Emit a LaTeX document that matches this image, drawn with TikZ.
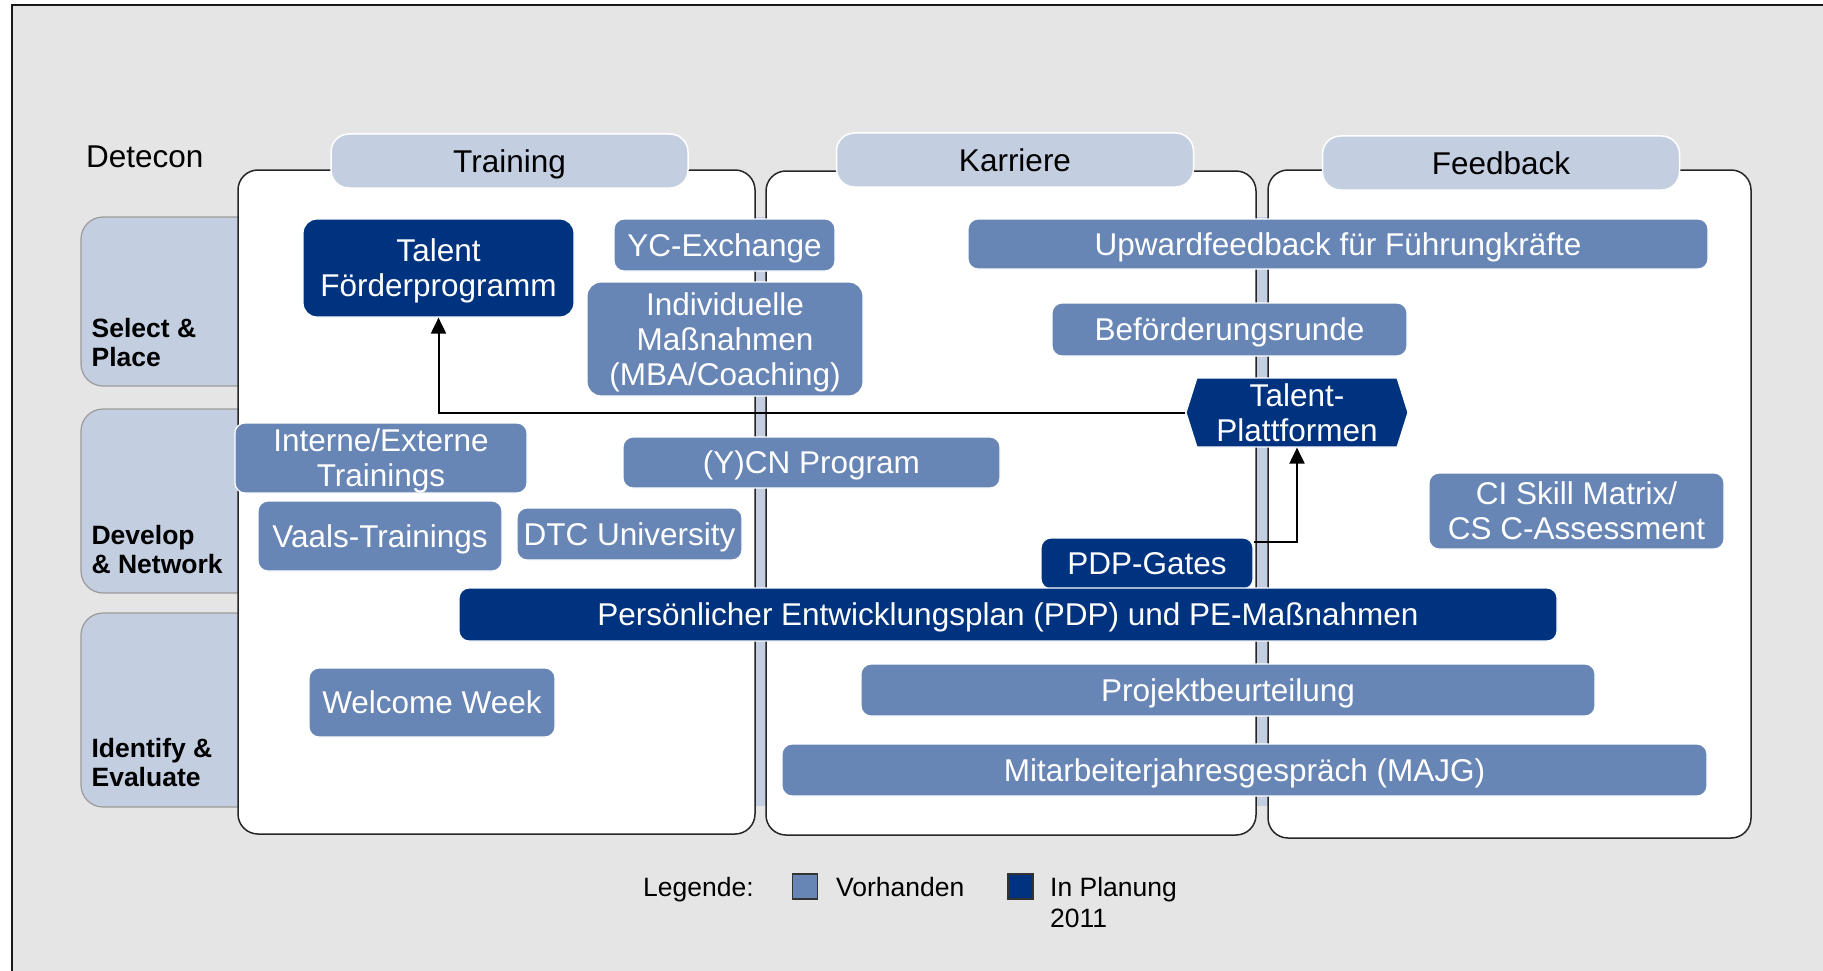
\documentclass[tikz,border=0pt]{standalone}
\usepackage{fontspec}
\setmainfont{Liberation Sans}
\usetikzlibrary{arrows.meta,shapes.symbols,calc}
\definecolor{bggray}{HTML}{E5E5E5}
\definecolor{lightblue}{HTML}{C3CEE0}
\definecolor{midblue}{HTML}{6785B5}
\definecolor{navy}{HTML}{00337F}
\definecolor{rowborder}{HTML}{9A9A9A}

\begin{document}
\begin{tikzpicture}[x=1pt,y=-1pt,
  itemfont/.style={font=\fontsize{31.5}{35}\selectfont},
  item/.style={itemfont, rounded corners=10pt, fill=midblue, draw=white, line width=1.2pt,
    text=white, align=center, inner sep=0pt, text depth=0pt},
  plan/.style={item, fill=navy},
  header/.style={itemfont, rounded corners=18pt, fill=lightblue, draw=white, line width=1.5pt,
    minimum width=357pt, minimum height=54pt, inner sep=0pt, text depth=0pt},
  panel/.style={rounded corners=20pt, fill=white, draw=black!85, line width=1.5pt, inner sep=0pt},
  rowbox/.style={rounded corners=22pt, fill=lightblue, draw=rowborder, line width=1.2pt, inner sep=0pt},
  rowlabel/.style={anchor=south west, inner sep=0pt, align=left,
    font=\bfseries\fontsize{26.5}{28.5}\selectfont},
  arr/.style={line width=2pt, -{Triangle[length=16pt,width=15pt]}},
  legtext/.style={inner sep=0pt, text depth=0pt, font=\fontsize{26.5}{31}\selectfont},
  legbox/.style={draw=black!80, line width=1.5pt, minimum size=25pt, inner sep=0pt},
]
\useasboundingbox (0,0) rectangle (1823,971);
\fill[white] (0,0) rectangle (1823,971);
\fill[bggray] (12,5) rectangle (1823,971);
\draw[line width=2pt, black!90] (12,971) -- (12,5) -- (1823,5);

% row bands on the left
\node[rowbox, minimum width=219pt, minimum height=169pt] (rowsel) at (190.5,301.5) {};
\node[rowbox, minimum width=219pt, minimum height=184pt] (rowdev) at (190.5,501) {};
\node[rowbox, minimum width=219pt, minimum height=194pt] (rowid)  at (190.5,710) {};
\node[rowlabel] (lsel) at ([shift={(11,-20)}]rowsel.south west) {Select \&\\Place};
\node[rowlabel] (ldev) at ([shift={(11,-20)}]rowdev.south west) {Develop\\\& Network};
\node[rowlabel] (lid)  at ([shift={(11,-21)}]rowid.south west) {Identify \&\\Evaluate};

% light strip seen between the columns
\fill[lightblue] (745,217) rectangle (1278,806);

% column panels
\node[panel, minimum width=517pt, minimum height=664pt] (ptrain) at (496.5,502) {};
\node[panel, minimum width=490pt, minimum height=664pt] (pkarr)  at (1011,503) {};
\node[panel, minimum width=483pt, minimum height=668pt] (pfeed)  at (1509.5,504) {};

% column headers
\node[header] (htrain) at (509.5,161) {Training};
\node[header] (hkarr)  at (1015,160) {Karriere};
\node[header] (hfeed)  at (1501,163) {Feedback};
\node[itemfont, anchor=west, inner sep=0pt] (detecon) at (86,157) {Detecon};

% measures
\node[plan, minimum width=271pt, minimum height=98pt, rounded corners=14pt] (tfp) at (438.5,268) {Talent\\Förderprogramm};
\node[item, minimum width=221pt, minimum height=52pt] (yc) at (724.5,245) {YC-Exchange};
\node[item, minimum width=276pt, minimum height=114pt, rounded corners=14pt] (ind) at (725,339) {Individuelle\\Maßnahmen\\(MBA/Coaching)};
\node[item, minimum width=740pt, minimum height=50pt] (upw) at (1338,244) {Upwardfeedback für Führungkräfte};
\node[item, minimum width=355pt, minimum height=53pt] (bef) at (1229.5,329.5) {Beförderungsrunde};
\node[plan, shape=signal, signal to=west and east, signal pointer angle=145, sharp corners,
  minimum width=222pt, minimum height=69pt] (tp) at (1297,412.5) {Talent-\\Plattformen};
\node[item, minimum width=292pt, minimum height=70pt] (iet) at (381,458) {Interne/Externe\\Trainings};
\node[item, minimum width=377pt, minimum height=51pt] (ycn) at (811.5,462.5) {(Y)CN Program};
\node[item, minimum width=244pt, minimum height=70pt] (vaals) at (380,536) {Vaals-Trainings};
\node[item, minimum width=225pt, minimum height=52pt] (dtc) at (629.5,534) {DTC University};
\node[item, minimum width=295pt, minimum height=76pt] (ci) at (1576.5,511) {CI Skill Matrix/\\CS C-Assessment};
\node[plan, minimum width=212pt, minimum height=51pt] (pdpg) at (1147,563.5) {PDP-Gates};
\node[plan, minimum width=1098pt, minimum height=53pt] (pdp) at (1008,614.5) {Persönlicher Entwicklungsplan (PDP) und PE-Maßnahmen};
\node[item, minimum width=246pt, minimum height=69pt] (ww) at (432,702.5) {Welcome Week};
\node[item, minimum width=734pt, minimum height=52pt] (proj) at (1228,690) {Projektbeurteilung};
\node[item, minimum width=925pt, minimum height=52pt] (majg) at (1244.5,770) {Mitarbeiterjahresgespräch (MAJG)};

% connectors
\draw[arr] (tp.west) -| (tfp.south);
\coordinate (gateout) at ($(pdpg.north east)+(0,5)$);
\draw[arr] (gateout) -| (tp.south);

% legend
\node[legtext, anchor=west] (legende) at (643,887) {Legende:};
\node[legbox, fill=midblue] (sqv) at (805,886.5) {};
\node[legtext, anchor=west] (vorh) at (836,887) {Vorhanden};
\node[legbox, fill=navy] (sqp) at (1020.5,886.5) {};
\node[legtext, anchor=north west, align=left] (planung) at (1050,877.5) {In Planung\\2011};
\end{tikzpicture}
\end{document}
